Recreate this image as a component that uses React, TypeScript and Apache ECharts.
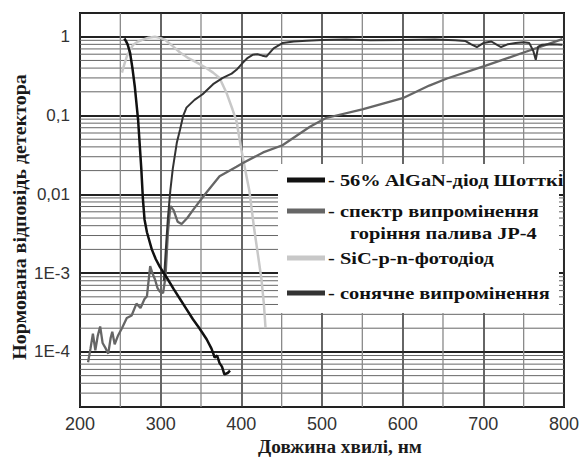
import React, { useEffect, useRef } from "react";
import * as echarts from "echarts";

// ---- Data ----
const alganNm = [255, 257, 259, 262, 265, 268, 272, 276, 278, 280, 283, 289, 294, 299, 304, 309, 316, 324, 332, 340, 348, 357, 363, 367, 370, 373, 376, 379, 383, 386];
const alganVal = [0.95, 0.88, 0.8, 0.63, 0.4, 0.23, 0.089, 0.021, 0.0087, 0.0048, 0.0033, 0.002, 0.0015, 0.0012, 0.001, 0.00083, 0.00063, 0.00047, 0.00035, 0.00026, 0.0002, 0.000145, 0.00011, 0.000085, 0.00009, 0.000072, 0.000065, 0.000052, 0.000054, 0.000058];

const jp4Nm = [210, 213, 216, 219, 222, 225, 228, 232, 235, 238, 240, 243, 247, 252, 258, 264, 270, 275, 280, 283, 287, 290, 293, 296, 299, 303, 306, 309, 312, 316, 321, 326, 333, 340, 355, 373, 394, 402, 427, 451, 485, 505, 550, 600, 633, 655, 703, 750, 773, 798];
const jp4Val = [7.4e-5, 1.1e-4, 1.7e-4, 1.05e-4, 1.6e-4, 2.1e-4, 1.3e-4, 1.1e-4, 9.5e-5, 1.5e-4, 1.8e-4, 1.25e-4, 1.6e-4, 2.0e-4, 2.7e-4, 2.9e-4, 4.1e-4, 3.6e-4, 4.7e-4, 5.1e-4, 1.23e-3, 9.8e-4, 8.3e-4, 6.5e-4, 5.8e-4, 5.6e-4, 9e-4, 3.3e-3, 7.1e-3, 6.3e-3, 4.5e-3, 4.2e-3, 5.0e-3, 6.3e-3, 0.01, 0.017, 0.0224, 0.025, 0.034, 0.042, 0.072, 0.093, 0.12, 0.166, 0.24, 0.295, 0.43, 0.63, 0.76, 0.93];

const sicNm = [252, 255, 258, 262, 266, 272, 278, 285, 293, 300, 305, 315, 324, 335, 345, 355, 365, 373, 382, 389, 394, 400, 405, 410, 416, 421, 425, 428, 430];
const sicVal = [0.35, 0.45, 0.56, 0.68, 0.79, 0.87, 0.92, 0.97, 1.0, 0.96, 0.92, 0.76, 0.63, 0.53, 0.47, 0.41, 0.35, 0.3, 0.19, 0.12, 0.085, 0.037, 0.02, 0.011, 0.0036, 0.0016, 0.00083, 0.0004, 0.0002];

const solarNm = [304, 307, 309, 312, 315, 320, 324, 328, 332, 342, 352, 365, 377, 388, 394, 402, 408, 414, 420, 426, 431, 440, 451, 465, 481, 500, 530, 560, 600, 640, 665, 678, 685, 692, 700, 710, 716, 722, 730, 740, 750, 757, 762, 765, 768, 773, 785, 798];
const solarVal = [8e-4, 2.5e-3, 5e-3, 0.0112, 0.021, 0.045, 0.066, 0.1, 0.126, 0.158, 0.186, 0.25, 0.3, 0.34, 0.38, 0.47, 0.54, 0.59, 0.6, 0.575, 0.56, 0.71, 0.83, 0.87, 0.89, 0.91, 0.92, 0.9, 0.91, 0.92, 0.9, 0.88, 0.8, 0.74, 0.83, 0.87, 0.8, 0.74, 0.8, 0.83, 0.85, 0.83, 0.66, 0.51, 0.75, 0.79, 0.8, 0.79];

const yLabelExp = [-4, -3, -2, -1, 0];
const yLabelText = ["1E-4", "1E-3", "0,01", "0,1", "1"];

const gridDecades = [1e-5, 1e-4, 1e-3, 1e-2, 1e-1, 1];
const gridSteps = [2, 3, 4, 5, 6, 7, 8, 9];
const xMinorGrid = [250, 350, 450, 550, 650, 750];

const legendItems = [
  { color: "#111111", text: "- 56% AlGaN-діод Шотткі", y: 180 },
  { color: "#666666", text: "- спектр випромінення", y: 211 },
  { color: null, text: "горіння палива JP-4", y: 233 },
  { color: "#c8c8c8", text: "- SiC-p-n-фотодіод", y: 258 },
  { color: "#333333", text: "- сонячне випромінення", y: 293 },
];

const zip = (xs: number[], ys: number[]) => xs.map((x, i) => [x, ys[i]]);

export default function App() {
  const ref = useRef<HTMLDivElement>(null);
  useEffect(() => {
    if (!ref.current) return;
    const chart = echarts.init(ref.current, undefined, { renderer: "svg" });
    const xMin = 200;
    const xMax = 800;
    const yMin = 2e-5;
    const yMax = 2;
    const gridData: number[][] = [];
    gridDecades.forEach((d) =>
      gridSteps.forEach((s) => {
        const v = d * s;
        if (v > yMin * 1.001 && v < yMax * 0.999) gridData.push([0, v]);
      })
    );
    xMinorGrid.forEach((v) => gridData.push([1, v]));

    const serif = "'Liberation Serif'";
    const graphics: any[] = [
      {
        type: "rect",
        shape: { x: 278, y: 164, width: 281, height: 149 },
        style: { fill: "#ffffff" },
        z: 100,
      },
    ];
    legendItems.forEach((it) => {
      if (it.color) {
        graphics.push({
          type: "line",
          shape: { x1: 287, y1: it.y, x2: 325, y2: it.y },
          style: { stroke: it.color, lineWidth: 5 },
          z: 101,
        });
      }
      graphics.push({
        type: "text",
        x: it.color ? 328 : 350,
        y: it.y,
        scaleX: 1.2,
        style: {
          text: it.text,
          font: "bold 17px " + serif,
          fill: "#111",
          verticalAlign: "middle",
          align: "left",
        },
        z: 101,
      });
    });
    graphics.push({
      type: "text",
      x: 20,
      y: 217,
      rotation: Math.PI / 2,
      scaleX: 1.11,
      style: {
        text: "Нормована відповідь детектора",
        font: "bold 18px " + serif,
        fill: "#1a1a1a",
        align: "center",
        verticalAlign: "middle",
      },
      z: 101,
    });
    graphics.push({
      type: "text",
      x: 340,
      y: 447,
      scaleX: 1.07,
      style: {
        text: "Довжина хвилі, нм",
        font: "bold 18px " + serif,
        fill: "#1a1a1a",
        align: "center",
        verticalAlign: "middle",
      },
      z: 101,
    });

    const lineSeries = (name: string, data: number[][], color: string, width: number, z: number) => ({
      name,
      type: "line",
      data,
      showSymbol: false,
      symbol: "none",
      smooth: false,
      lineStyle: { color, width },
      z,
      silent: true,
    });

    chart.setOption({
      animation: false,
      grid: {
        left: 80,
        right: 17,
        top: 13,
        bottom: 50,
        show: true,
        borderColor: "#111",
        borderWidth: 2,
        backgroundColor: "transparent",
      },
      xAxis: {
        type: "value",
        min: xMin,
        max: xMax,
        interval: 100,
        axisLine: { show: false },
        axisTick: { show: false },
        axisLabel: {
          fontSize: 18,
          color: "#333",
          fontFamily: "Liberation Sans",
          margin: 8,
        },
        splitLine: { show: true, lineStyle: { color: "#333", width: 1.5 } },
      },
      yAxis: {
        type: "log",
        logBase: 10,
        min: yMin,
        max: yMax,
        axisLine: { show: false },
        axisTick: { show: false },
        axisLabel: {
          fontSize: 17,
          color: "#333",
          fontFamily: "Liberation Sans",
          margin: 10,
          showMinLabel: false,
          showMaxLabel: false,
          formatter: (v: number) => {
            const l = Math.log10(v);
            const e = Math.round(l);
            if (Math.abs(l - e) > 1e-6) return "";
            const i = yLabelExp.indexOf(e);
            return i >= 0 ? yLabelText[i] : "";
          },
        },
        splitLine: { show: true, lineStyle: { color: "#222", width: 1.8 } },
      },
      series: [
        {
          type: "custom",
          silent: true,
          z: 1,
          data: gridData,
          encode: { x: -1, y: -1 },
          renderItem: (params: any, api: any) => {
            const kind = api.value(0);
            const v = api.value(1);
            let p1, p2;
            if (kind === 0) {
              p1 = api.coord([xMin, v]);
              p2 = api.coord([xMax, v]);
            } else {
              p1 = api.coord([v, yMin]);
              p2 = api.coord([v, yMax]);
            }
            return {
              type: "line",
              shape: { x1: p1[0], y1: p1[1], x2: p2[0], y2: p2[1] },
              style: { stroke: kind === 0 ? "#666" : "#8a8a8a", lineWidth: kind === 0 ? 1 : 1.3 },
            };
          },
        },
        lineSeries("SiC", zip(sicNm, sicVal), "#c8c8c8", 2.5, 3),
        lineSeries("JP-4", zip(jp4Nm, jp4Val), "#666666", 2.3, 4),
        lineSeries("Solar", zip(solarNm, solarVal), "#333333", 2, 5),
        lineSeries("AlGaN", zip(alganNm, alganVal), "#111111", 2.5, 6),
      ],
      graphic: graphics,
    });
    return () => chart.dispose();
  }, []);
  return (
    <div
      ref={ref}
      style={{ position: "fixed", left: 0, top: 0, width: 582, height: 457, background: "#fff" }}
    />
  );
}
